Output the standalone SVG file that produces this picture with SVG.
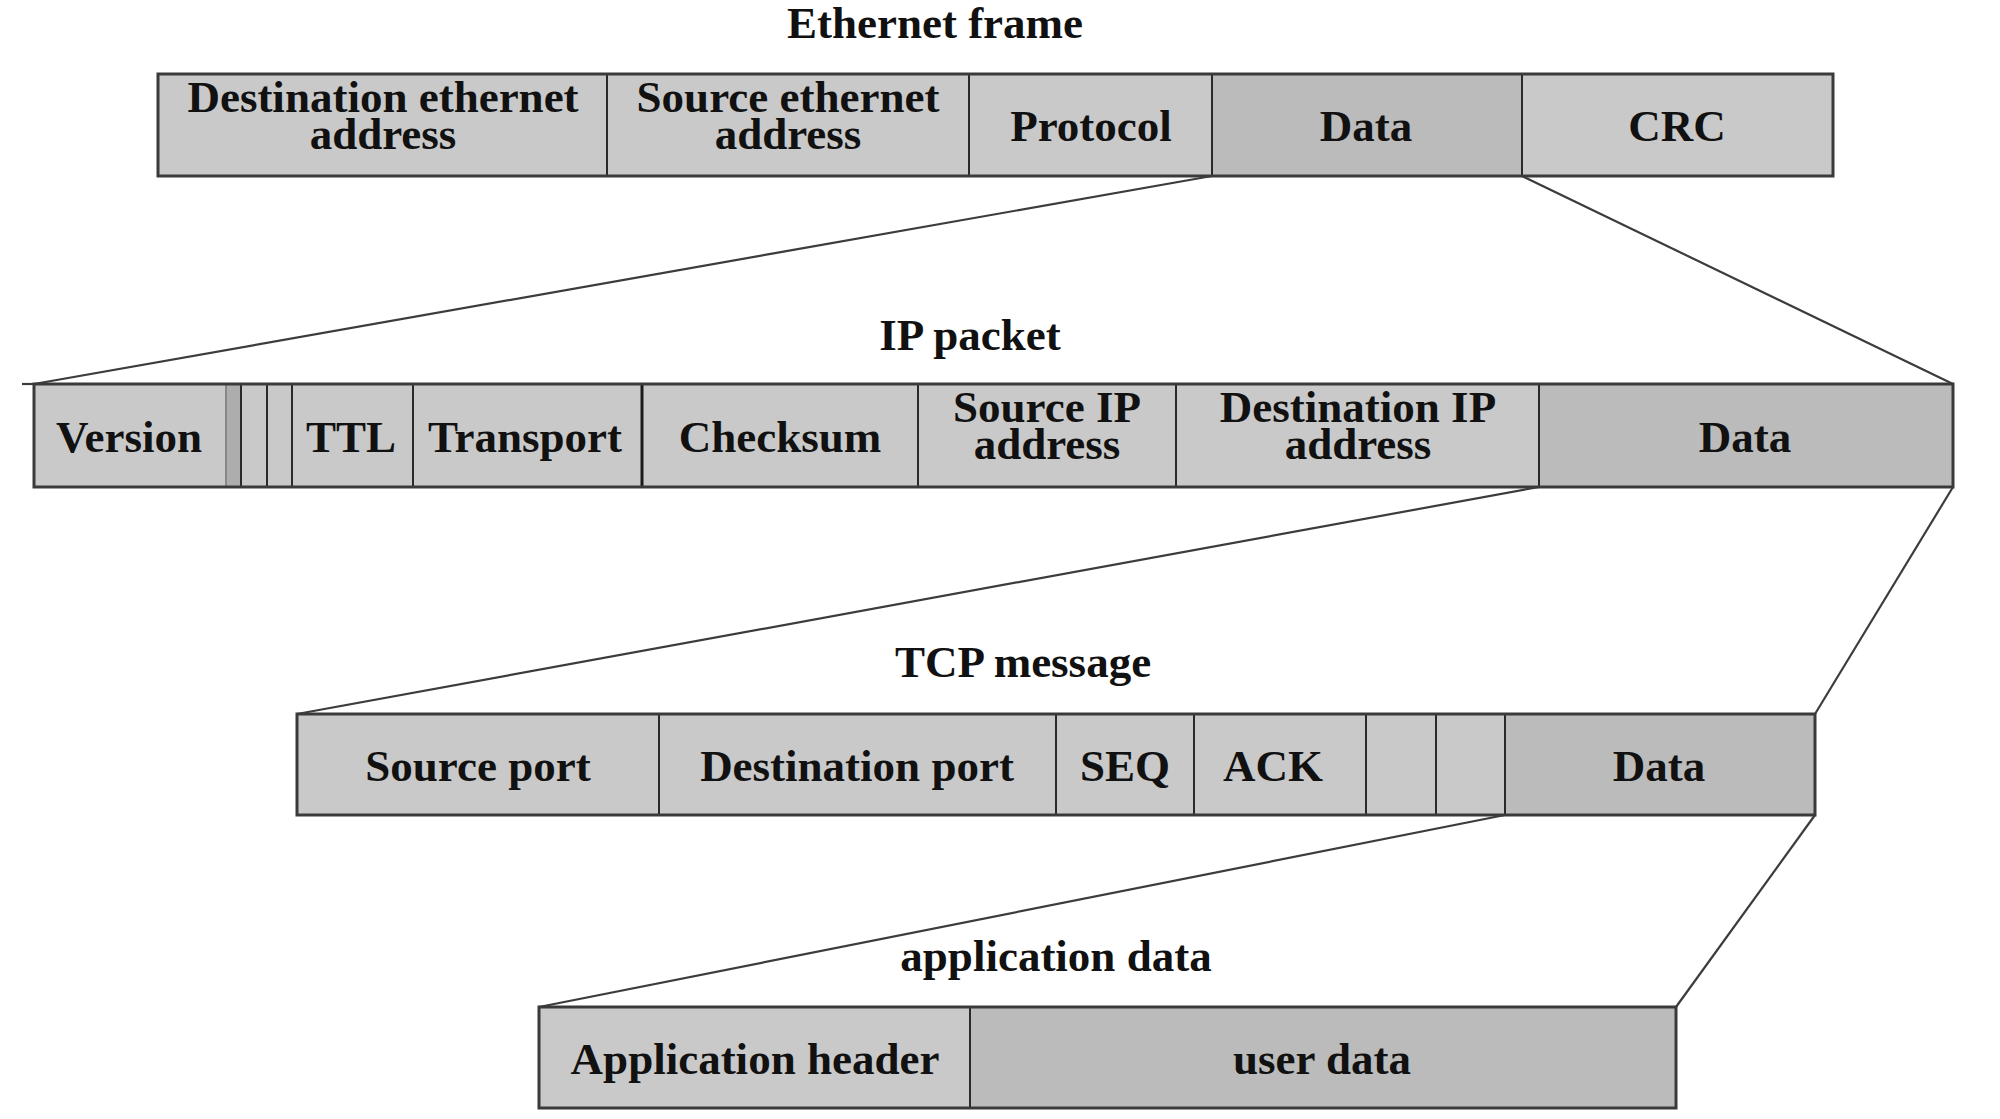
<svg xmlns="http://www.w3.org/2000/svg" width="2000" height="1119" viewBox="0 0 2000 1119">
<style>
.cell{fill:#c9c9c9;stroke:none}
.dark{fill:#bbbbbb;stroke:none}
.narrow{fill:#adadad;stroke:none}
.frame{fill:none;stroke:#3a3a3a;stroke-width:3}
.div{stroke:#2a2a2a;stroke-width:2;fill:none}
.thick{stroke:#1a1a1a;stroke-width:3;fill:none}
.conn{stroke:#3c3c3c;stroke-width:2.2;fill:none}
text{font-family:"Liberation Serif","Times New Roman",serif;font-weight:bold;font-size:45px;fill:#111;text-anchor:middle}
</style>
<rect width="2000" height="1119" fill="#ffffff"/>

<g id="connectors">
<line class="conn" x1="1212" y1="176" x2="34" y2="384"/>
<line class="conn" x1="22" y1="384" x2="34" y2="384"/>
<line class="conn" x1="1522" y1="176" x2="1953" y2="384"/>
<line class="conn" x1="1539" y1="487" x2="297" y2="714"/>
<line class="conn" x1="1953" y1="487" x2="1815" y2="714"/>
<line class="conn" x1="1505" y1="815" x2="539" y2="1007"/>
<line class="conn" x1="1815" y1="815" x2="1676" y2="1007"/>
</g>

<g id="title-ethernet"><text x="935" y="38">Ethernet frame</text></g>
<g id="title-ip"><text x="970" y="350">IP packet</text></g>
<g id="title-tcp"><text x="1023" y="677">TCP message</text></g>
<g id="title-app"><text x="1056" y="971">application data</text></g>

<g id="ethernet-frame">
<rect class="cell" x="158" y="74" width="1675" height="102"/>
<rect class="dark" x="1212" y="74" width="310" height="102"/>
<line class="div" x1="607" y1="74" x2="607" y2="176"/>
<line class="div" x1="969" y1="74" x2="969" y2="176"/>
<line class="div" x1="1212" y1="74" x2="1212" y2="176"/>
<line class="div" x1="1522" y1="74" x2="1522" y2="176"/>
<rect class="frame" x="158" y="74" width="1675" height="102"/>
<text x="383" y="112">Destination ethernet</text>
<text x="383" y="149">address</text>
<text x="788" y="112">Source ethernet</text>
<text x="788" y="149">address</text>
<text x="1091" y="141">Protocol</text>
<text x="1366" y="141">Data</text>
<text x="1677" y="141">CRC</text>
</g>

<g id="ip-packet">
<rect class="cell" x="34" y="384" width="1919" height="103"/>
<rect class="narrow" x="226" y="384" width="15" height="103"/>
<rect class="dark" x="1539" y="384" width="414" height="103"/>
<line class="div" x1="226" y1="384" x2="226" y2="487" style="stroke:#888"/>
<line class="div" x1="241" y1="384" x2="241" y2="487"/>
<line class="div" x1="267" y1="384" x2="267" y2="487"/>
<line class="div" x1="292" y1="384" x2="292" y2="487"/>
<line class="div" x1="413" y1="384" x2="413" y2="487"/>
<line class="thick" x1="642" y1="384" x2="642" y2="487"/>
<line class="div" x1="918" y1="384" x2="918" y2="487"/>
<line class="div" x1="1176" y1="384" x2="1176" y2="487"/>
<line class="div" x1="1539" y1="384" x2="1539" y2="487"/>
<rect class="frame" x="34" y="384" width="1919" height="103"/>
<text x="129" y="452">Version</text>
<text x="351" y="452">TTL</text>
<text x="525" y="452">Transport</text>
<text x="780" y="452">Checksum</text>
<text x="1047" y="422">Source IP</text>
<text x="1047" y="459">address</text>
<text x="1358" y="422">Destination IP</text>
<text x="1358" y="459">address</text>
<text x="1745" y="452">Data</text>
</g>

<g id="tcp-message">
<rect class="cell" x="297" y="714" width="1518" height="101"/>
<rect class="dark" x="1505" y="714" width="310" height="101"/>
<line class="div" x1="659" y1="714" x2="659" y2="815"/>
<line class="div" x1="1056" y1="714" x2="1056" y2="815"/>
<line class="div" x1="1194" y1="714" x2="1194" y2="815"/>
<line class="div" x1="1366" y1="714" x2="1366" y2="815"/>
<line class="div" x1="1436" y1="714" x2="1436" y2="815"/>
<line class="div" x1="1505" y1="714" x2="1505" y2="815"/>
<rect class="frame" x="297" y="714" width="1518" height="101"/>
<text x="478" y="781">Source port</text>
<text x="857" y="781">Destination port</text>
<text x="1125" y="781">SEQ</text>
<text x="1273" y="781">ACK</text>
<text x="1659" y="781">Data</text>
</g>

<g id="application-data">
<rect class="cell" x="539" y="1007" width="1137" height="101"/>
<rect class="dark" x="970" y="1007" width="706" height="101"/>
<line class="div" x1="970" y1="1007" x2="970" y2="1108"/>
<rect class="frame" x="539" y="1007" width="1137" height="101"/>
<text x="755" y="1074">Application header</text>
<text x="1322" y="1074">user data</text>
</g>
</svg>
